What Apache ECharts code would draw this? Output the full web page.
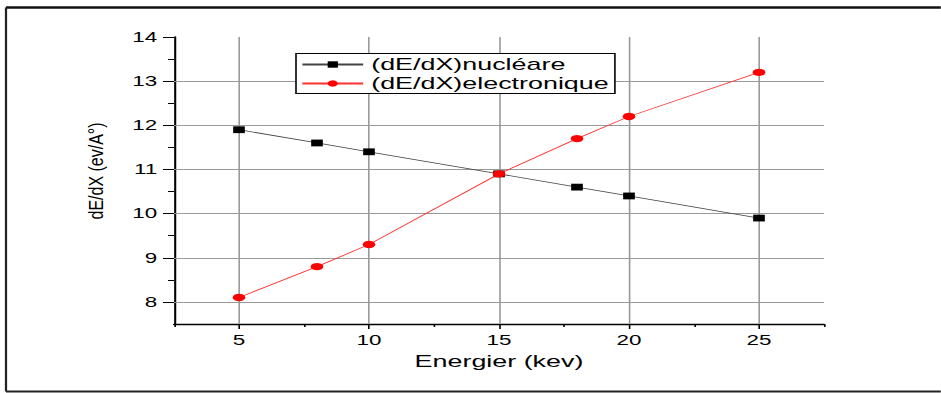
<!DOCTYPE html>
<html>
<head>
<meta charset="utf-8">
<script src="https://cdn.jsdelivr.net/npm/echarts@6/dist/echarts.min.js"></script>
<style>
  html, body { margin: 0; padding: 0; background: #fff; overflow: hidden; }
  #wrap { width: 941px; height: 393px; overflow: hidden; }
  /* the figure is laid out narrow and widened horizontally */
  #chart { width: 588px; height: 393px; transform: scaleX(1.6); transform-origin: 0 0; }
</style>
</head>
<body>
<div id="wrap"><div id="chart"></div></div>
<script>
// Stopping power versus energy
const energies = [5, 8, 10, 15, 18, 20, 25];
const nucleaire = [11.9, 11.6, 11.4, 10.9, 10.6, 10.4, 9.9];
const electronique = [8.1, 8.8, 9.3, 10.9, 11.7, 12.2, 13.2];

// axis ticks
const xMajorTicks = [5, 10, 15, 20, 25];
const xMinorTicks = [2.5, 7.5, 12.5, 17.5, 22.5, 27.5];
const yMajorTicks = [8, 9, 10, 11, 12, 13, 14];
const yMinorTicks = [8.5, 9.5, 10.5, 11.5, 12.5, 13.5];
const yGridValues = [8, 9, 10, 11, 12, 13];

const FONT = '"Liberation Sans", Arial, sans-serif';

const chart = echarts.init(document.getElementById('chart'), null, { renderer: 'svg' });

const pairs = (xs, ys) => xs.map((x, i) => [x, ys[i]]);

const option = {
  animation: false,
  backgroundColor: '#fff',
  textStyle: { fontFamily: FONT },
  grid: { left: 108.75, right: 73, top: 37, bottom: 69 },
  xAxis: [
    {
      type: 'value', position: 'bottom', offset: 0,
      min: 2.5, max: 27.5, interval: 2.5,
      axisLine: { show: true, onZero: false, lineStyle: { color: '#000', width: 1.4 } },
      axisTick: { show: true, customValues: xMajorTicks, length: 5, lineStyle: { color: '#000', width: 1 } },
      axisLabel: {
        customValues: xMajorTicks,
        formatter: v => (xMajorTicks.includes(v) ? String(v) : ''),
        color: '#000', fontSize: 14, fontFamily: FONT, margin: 9
      },
      splitLine: { show: false },
      name: 'Energier (kev)', nameLocation: 'middle', nameGap: 29,
      nameTextStyle: { color: '#000', fontSize: 16.8, fontFamily: FONT }
    },
    {
      type: 'value', position: 'bottom', offset: 0,
      min: 2.5, max: 27.5, interval: 2.5,
      axisLine: { show: false },
      axisTick: { show: true, customValues: xMinorTicks, length: 3, lineStyle: { color: '#000', width: 1 } },
      axisLabel: { show: false },
      splitLine: { show: false }
    }
  ],
  yAxis: [
    {
      type: 'value', position: 'left', offset: 0,
      min: 7.5, max: 14, interval: 0.5,
      axisLine: { show: true, onZero: false, lineStyle: { color: '#000', width: 1.3 } },
      axisTick: { show: true, customValues: yMajorTicks, length: 6.9, lineStyle: { color: '#000', width: 1 } },
      axisLabel: {
        customValues: yMajorTicks,
        formatter: v => (yMajorTicks.includes(v) ? String(v) : ''),
        color: '#000', fontSize: 14, fontFamily: FONT, margin: 10.5
      },
      splitLine: { show: false }
    },
    {
      type: 'value', position: 'left', offset: 0,
      min: 7.5, max: 14, interval: 0.5,
      axisLine: { show: false },
      axisTick: { show: true, customValues: yMinorTicks, length: 3.75, lineStyle: { color: '#000', width: 1 } },
      axisLabel: { show: false },
      splitLine: { show: false }
    }
  ],
  legend: {
    data: ['(dE/dX)nucléare', '(dE/dX)electronique'],
    orient: 'vertical',
    left: 185, top: 53.5,
    padding: [2.5, 4, 1.5, 3],
    itemGap: 2,
    itemWidth: 38, itemHeight: 8,
    backgroundColor: '#fff',
    borderColor: '#000', borderWidth: 1, borderRadius: 0,
    textStyle: { color: '#000', fontSize: 16.8, fontFamily: FONT },
    selectedMode: false
  },
  graphic: [
    // frame around the figure
    { type: 'line', shape: { x1: 3.75, y1: 7.5, x2: 600, y2: 7.5 }, style: { stroke: '#111', lineWidth: 2.5 }, silent: true },
    { type: 'line', shape: { x1: 3.75, y1: 7.5, x2: 3.75, y2: 391.5 }, style: { stroke: '#222', lineWidth: 1.4 }, silent: true },
    { type: 'line', shape: { x1: 3.75, y1: 391.5, x2: 600, y2: 391.5 }, style: { stroke: '#222', lineWidth: 2 }, silent: true },
    // vertical axis title, kept narrow
    {
      type: 'text', x: 60, y: 171, rotation: Math.PI / 2, scaleY: 0.76,
      silent: true,
      style: { text: 'dE/dX (ev/A°)', font: '16px ' + FONT, fill: '#000', align: 'center', verticalAlign: 'middle' }
    }
  ],
  series: [
    {
      name: '(dE/dX)nucléare',
      type: 'line',
      xAxisIndex: 0, yAxisIndex: 0,
      data: pairs(energies, nucleaire),
      symbol: 'rect', symbolSize: [7.3, 6.8],
      itemStyle: { color: '#000' },
      lineStyle: { color: '#444', width: 0.8 },
      z: 3,
      markLine: {
        silent: true, z: 1, animation: false,
        symbol: ['none', 'none'],
        label: { show: false },
        emphasis: { disabled: true },
        lineStyle: { color: '#999', width: 1, type: 'solid' },
        data: [
          ...xMajorTicks.map(v => ({ xAxis: v })),
          ...yGridValues.map(v => ({ yAxis: v }))
        ]
      }
    },
    {
      name: '(dE/dX)electronique',
      type: 'line',
      xAxisIndex: 0, yAxisIndex: 0,
      data: pairs(energies, electronique),
      symbol: 'circle', symbolSize: [7.9, 7.3],
      itemStyle: { color: '#ff0000' },
      lineStyle: { color: '#ff3030', width: 0.8 },
      z: 4
    }
  ]
};

chart.setOption(option);
</script>
</body>
</html>
